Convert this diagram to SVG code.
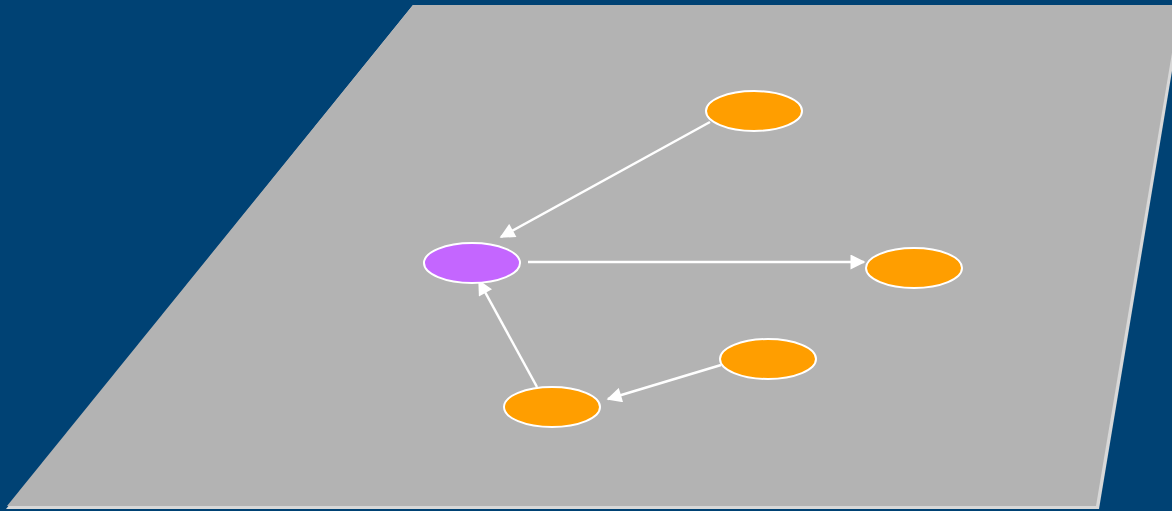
<svg xmlns="http://www.w3.org/2000/svg" width="1172" height="511" viewBox="0 0 1172 511">
<defs>
<style>
.n ellipse{stroke:#fff;stroke-width:2}
.o{fill:#ff9e00}
.p{fill:#c466ff}
.e{stroke:#fff;stroke-width:2.5;fill:none;marker-end:url(#a)}
</style>
<marker id="a" viewBox="0 0 10 10" refX="9" refY="5" markerWidth="7" markerHeight="6" markerUnits="strokeWidth" orient="auto"><path d="M0,0L10,5L0,10z" fill="#fff"/></marker>
</defs>
<rect width="1172" height="511" fill="#004274"/>
<polygon points="413,5 1183,5 1099,509 6,509" fill="#d8d8d8"/>
<polygon points="413,5 1180,5 1096,506 7,506" fill="#b3b3b3"/>
<g id="connectors">
<line class="e" x1="710" y1="122" x2="501" y2="237"/>
<line class="e" x1="528" y1="262" x2="864" y2="262"/>
<line class="e" x1="537" y1="387" x2="479" y2="281"/>
<line class="e" x1="721" y1="365" x2="608" y2="399"/>
</g>
<g id="n0" class="n"><ellipse class="p" cx="472" cy="263" rx="48" ry="20"/></g>
<g id="n1" class="n"><ellipse class="o" cx="754" cy="111" rx="48" ry="20"/></g>
<g id="n2" class="n"><ellipse class="o" cx="914" cy="268" rx="48" ry="20"/></g>
<g id="n3" class="n"><ellipse class="o" cx="768" cy="359" rx="48" ry="20"/></g>
<g id="n4" class="n"><ellipse class="o" cx="552" cy="407" rx="48" ry="20"/></g>
</svg>
